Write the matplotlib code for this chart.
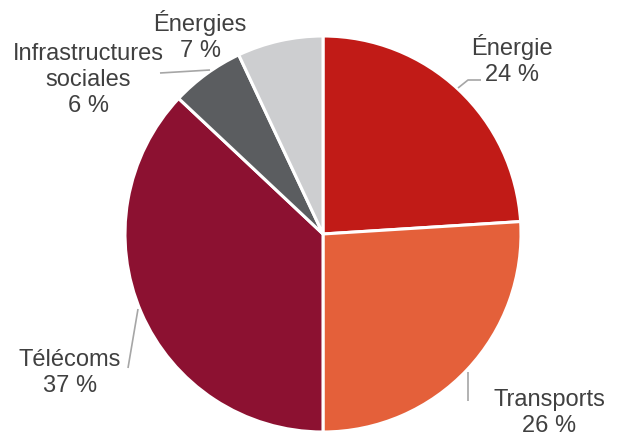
import matplotlib
matplotlib.use("Agg")
import matplotlib.pyplot as plt

categories = ["Énergie", "Transports", "Télécoms", "Infrastructures\nsociales", "Énergies"]
values = [24, 26, 37, 6, 7]
colors = ["#C11B17", "#E4603A", "#8C1131", "#5B5D60", "#CDCED0"]

W, H = 619, 434
fig = plt.figure(figsize=(W / 100, H / 100), dpi=100)
ax = fig.add_axes([0, 0, 1, 1])
ax.set_xlim(0, W)
ax.set_ylim(0, H)
ax.axis("off")

cx, cy, r = 323, H - 234, 198
ax.pie(values, colors=colors, startangle=90, counterclock=False,
       center=(cx, cy), radius=r,
       wedgeprops=dict(edgecolor="white", linewidth=2.2))
ax.set_xlim(0, W)
ax.set_ylim(0, H)
ax.set_aspect("equal")

# label positions (pixel coords, top-left origin)
label_pos = [(512, 60), (549, 413), (70, 373), (88, 80), (200, 36)]
for cat, v, (x, y) in zip(categories, values, label_pos):
    ax.text(x, H - y, f"{cat}\n{v} %", ha="center", va="center",
            fontsize=17, color="#404040", family="Liberation Sans",
            linespacing=1.22)

leaders = [
    [(458, 88), (468, 80), (481, 80)],
    [(468, 372), (468, 401)],
    [(138, 309), (128, 368)],
    [(160, 73), (210, 70)],
]
for pts in leaders:
    xs = [p[0] for p in pts]
    ys = [H - p[1] for p in pts]
    ax.plot(xs, ys, color="#A6A6A6", linewidth=1.2, solid_capstyle="butt")

fig.savefig("out.png", dpi=100)
